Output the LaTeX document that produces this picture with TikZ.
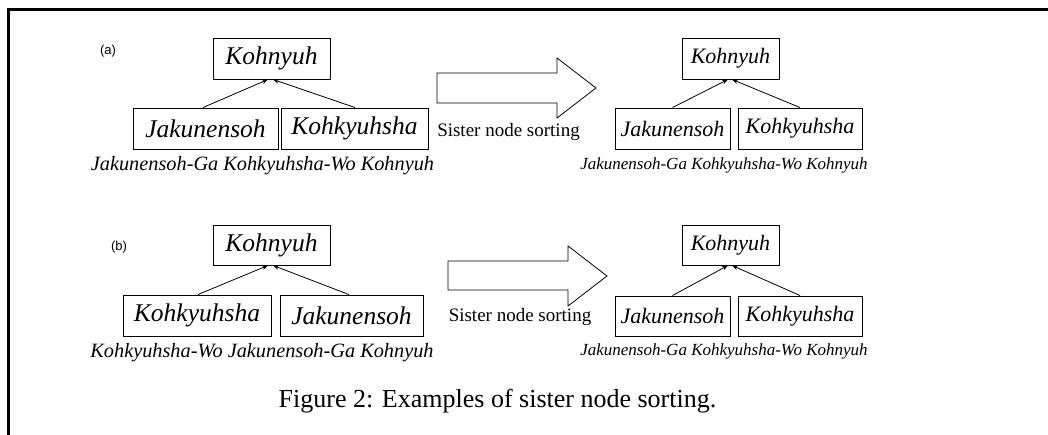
\documentclass[tikz,border=0pt]{standalone}
\usepackage{fontspec}
\setmainfont{Liberation Serif}
\newfontfamily\labelfont{Liberation Sans}
\usetikzlibrary{arrows.meta}
\begin{document}
\begin{tikzpicture}[x=1pt,y=-1pt,
  bigbox/.style={draw,line width=0.9pt,inner sep=0pt,minimum height=41pt,font=\fontsize{25.5}{30}\selectfont\itshape},
  smallbox/.style={draw,line width=0.9pt,inner sep=0pt,minimum height=41pt,font=\fontsize{22}{26}\selectfont\itshape},
  bigcap/.style={inner sep=0pt,font=\fontsize{20.3}{24}\selectfont\itshape},
  smallcap/.style={inner sep=0pt,font=\fontsize{17}{20}\selectfont\itshape},
  sortlabel/.style={inner sep=0pt,font=\fontsize{19}{23}\selectfont},
  partlabel/.style={inner sep=0pt,font=\fontsize{13}{15}\selectfont\labelfont},
  edge/.style={line width=0.8pt,-{Stealth[length=6pt,width=4.5pt]}},
  fatarrow/.style={draw,line width=0.8pt,line join=miter}
]
\useasboundingbox (0,0) rectangle (1048,435);
\draw[line width=3pt,line join=miter] (8,435) -- (8,10) -- (1048,10);

% (a)
\node[partlabel] (la) at (108,51) {(a)};
\node[bigbox,minimum width=117pt] (ka) at (271.5,58.5) {Kohnyuh};
\node[bigbox,minimum width=145pt] (ja) at (205.5,128.5) {Jakunensoh};
\node[bigbox,minimum width=147pt] (kha) at (354.5,128.5) {Kohkyuhsha};
\node[bigcap] (ca) at (262.5,166) {Jakunensoh-Ga Kohkyuhsha-Wo Kohnyuh};
\draw[edge] ([xshift=-2.5pt]ja.north) -- ([xshift=-3.5pt]ka.south);
\draw[edge] ([xshift=0.5pt]kha.north) -- ([xshift=1.5pt]ka.south);

\draw[fatarrow] (437,73) -- (557,73) -- (557,58) -- (596,88) -- (557,118) -- (557,103) -- (437,103) -- cycle;
\node[sortlabel] (sa) at (508.5,132) {Sister node sorting};

\node[smallbox,minimum width=97pt] (kb) at (730.5,58.5) {Kohnyuh};
\node[smallbox,minimum width=115pt] (jb) at (672.5,128.5) {Jakunensoh};
\node[smallbox,minimum width=124pt] (khb) at (800,128.5) {Kohkyuhsha};
\node[smallcap] (cb) at (724,165) {Jakunensoh-Ga Kohkyuhsha-Wo Kohnyuh};
\draw[edge] (jb.north) -- ([xshift=-2.5pt]kb.south);
\draw[edge] (khb.north) -- ([xshift=1.5pt]kb.south);

% (b)
\node[partlabel] (lb) at (119,247) {(b)};
\node[bigbox,minimum width=117pt,minimum height=40pt] (kc) at (271.5,245) {Kohnyuh};
\node[bigbox,minimum width=148pt] (khc) at (197,315.5) {Kohkyuhsha};
\node[bigbox,minimum width=143pt] (jc) at (351.5,315.5) {Jakunensoh};
\node[bigcap] (cc) at (262,353) {Kohkyuhsha-Wo Jakunensoh-Ga Kohnyuh};
\draw[edge] ([xshift=1pt]khc.north) -- ([xshift=-3.5pt]kc.south);
\draw[edge] ([xshift=-2.5pt]jc.north) -- ([xshift=1.5pt]kc.south);

\draw[fatarrow] (448,261) -- (568,261) -- (568,246) -- (607,276) -- (568,306) -- (568,290) -- (448,290) -- cycle;
\node[sortlabel] (sb) at (520,317) {Sister node sorting};

\node[smallbox,minimum width=97pt,minimum height=40pt] (kd) at (730.5,245) {Kohnyuh};
\node[smallbox,minimum width=115pt,minimum height=40pt] (jd) at (672.5,316) {Jakunensoh};
\node[smallbox,minimum width=124pt,minimum height=40pt] (khd) at (800,316) {Kohkyuhsha};
\node[smallcap] (cd) at (724,351) {Jakunensoh-Ga Kohkyuhsha-Wo Kohnyuh};
\draw[edge] (jd.north) -- ([xshift=-2.5pt]kd.south);
\draw[edge] (khd.north) -- ([xshift=1.5pt]kd.south);

\node[inner sep=0pt,font=\fontsize{26}{31}\selectfont] (fig) at (497.5,401) {Figure 2: Examples of sister node sorting.};
\end{tikzpicture}
\end{document}
